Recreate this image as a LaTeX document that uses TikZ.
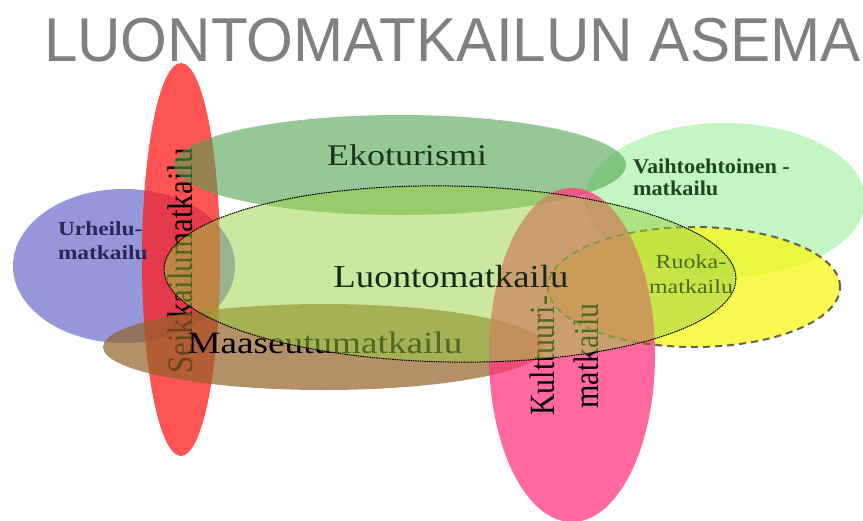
\documentclass[tikz,border=0pt]{standalone}
\usepackage{fontspec}
\setmainfont{Liberation Serif}
\newfontfamily\titlefont{Liberation Sans}
\usepackage{graphicx}
\definecolor{cred}{RGB}{255,28,28}
\definecolor{cblue}{RGB}{115,115,208}
\definecolor{cpink}{RGB}{255,55,128}
\definecolor{ceko}{RGB}{80,163,80}
\definecolor{cvaihto}{RGB}{155,240,155}
\definecolor{cruoka}{RGB}{248,248,22}
\definecolor{cbrown}{RGB}{148,98,41}
\definecolor{cluonto}{RGB}{155,209,65}
\definecolor{ctitle}{RGB}{128,128,128}
\definecolor{cekotxt}{RGB}{25,55,25}
\definecolor{cluotxt}{RGB}{25,40,20}
\definecolor{curhtxt}{RGB}{40,40,90}
\definecolor{cvaitxt}{RGB}{30,70,35}
\definecolor{cruokaline}{RGB}{100,100,80}
\begin{document}
\begin{tikzpicture}[x=1pt,y=-1pt,
  blob/.style={fill=#1, fill opacity=0.75},
  blobsoft/.style={fill=#1, fill opacity=0.6},
  lbl/.style={inner sep=0pt, outer sep=0pt},
  bigtxt/.style={lbl, anchor=base}]
\useasboundingbox (0,0) rectangle (863,520);
\fill[white] (0,0) rectangle (863,520);

% title
\node[lbl, anchor=base west, text=ctitle] (title) at (44,61)
  {\titlefont\fontsize{62}{70}\selectfont\scalebox{0.97}[1]{LUONTOMATKAILUN ASEMA}};

% Urheilumatkailu (blue)
\fill[blob=cblue] (124,266) ellipse [x radius=111pt, y radius=77pt];
% Seikkailumatkailu (red)
\fill[blob=cred] (181,259.5) ellipse [x radius=39pt, y radius=196.5pt];
\node[bigtxt, rotate=90] (seik) at (192,261)
  {\fontsize{31}{37}\selectfont\scalebox{1}[1.15]{Seikkailumatkailu}};
% Vaihtoehtoinen matkailu (light green)
\fill[blobsoft=cvaihto] (725,200) ellipse [x radius=140pt, y radius=77pt];
% Ekoturismi (green)
\fill[blobsoft=ceko] (400,165) ellipse [x radius=226pt, y radius=50pt];
% Maaseutumatkailu (brown)
\fill[fill=cbrown, fill opacity=0.7] (324,347) ellipse [x radius=221pt, y radius=43pt];
\node[bigtxt] (maaseutu) at (325,353)
  {\fontsize{31}{37}\selectfont\scalebox{1.2}[1]{Maaseutumatkailu}};
% Ruokamatkailu (yellow)
\fill[blob=cruoka] (694,287) ellipse [x radius=146pt, y radius=60pt];
\node[lbl, anchor=base] (ruoka) at (691,268)
  {\fontsize{20}{25}\selectfont\scalebox{1.2}[1]{\begin{tabular}[t]{@{}c@{}}Ruoka-\\matkailu\end{tabular}}};
% Kulttuurimatkailu (pink)
\fill[blob=cpink] (572,355) ellipse [x radius=83pt, y radius=167pt];
\node[lbl, rotate=90] (kult) at (568,356)
  {\fontsize{30}{37}\selectfont\scalebox{1}[1.18]{\begin{tabular}{@{}c@{}}Kulttuuri-\\matkailu\end{tabular}}};
\draw[cruokaline, line width=2pt, dash pattern=on 7pt off 5pt] (694,287) ellipse [x radius=146pt, y radius=60pt];
% Luontomatkailu
\fill[fill=cluonto, fill opacity=0.5, rotate around={-1:(450,274)}] (450,274) ellipse [x radius=286pt, y radius=88pt];
\draw[black, line width=1pt, dash pattern=on 1.5pt off 0.8pt, rotate around={-1:(450,274)}] (450,274) ellipse [x radius=286pt, y radius=88pt];

% labels on top
\node[bigtxt, text=cluotxt] (luonto) at (451,287)
  {\fontsize{32}{38}\selectfont\scalebox{1.15}[1]{Luontomatkailu}};
\node[bigtxt, text=cekotxt] (eko) at (407,165)
  {\fontsize{30}{36}\selectfont\scalebox{1.2}[1]{Ekoturismi}};
\node[lbl, anchor=base west, text=curhtxt] (urheilu) at (58,235)
  {\fontsize{20}{24}\selectfont\bfseries\scalebox{1.17}[1]{\begin{tabular}[t]{@{}l@{}}Urheilu-\\matkailu\end{tabular}}};
\node[lbl, anchor=base west, text=cvaitxt] (vaihto) at (633,173)
  {\fontsize{21}{22}\selectfont\bfseries\scalebox{1.06}[1]{\begin{tabular}[t]{@{}l@{}}Vaihtoehtoinen -\\matkailu\end{tabular}}};
\end{tikzpicture}
\end{document}
